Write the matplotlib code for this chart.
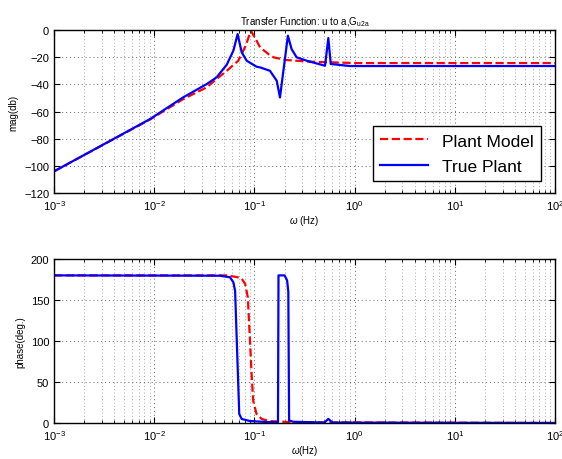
import matplotlib
matplotlib.use("Agg")
import matplotlib.pyplot as plt
import numpy as np
from matplotlib.ticker import LogLocator, NullFormatter

plt.rcParams["font.family"] = ["Liberation Sans", "DejaVu Sans"]
plt.rcParams["mathtext.fontset"] = "custom"
plt.rcParams["mathtext.rm"] = "Liberation Sans"
plt.rcParams["mathtext.it"] = "Liberation Sans:italic"

# magnitude, true plant
f_mag_true = [1e-3, 0.0091, 0.0195, 0.0334, 0.042, 0.053, 0.0617, 0.068, 0.0747, 0.0838,
              0.105, 0.114, 0.143, 0.167, 0.18, 0.216, 0.235, 0.264, 0.333, 0.507,
              0.547, 0.578, 0.9, 100.0]
mag_true = [-104, -65.5, -49.5, -39.8, -34.8, -25.5, -15.2, -3, -16.4, -22.6,
            -27, -27.5, -30, -37.3, -49.6, -4.2, -14, -20.1, -22.6, -26.3,
            -5.9, -25, -26.5, -26.5]

# magnitude, plant model
f_mag_model = [1e-3, 0.0091, 0.0195, 0.0334, 0.042, 0.053, 0.069, 0.082, 0.092, 0.103,
               0.114, 0.138, 0.155, 0.21, 0.359, 1.0, 100.0]
mag_model = [-104, -65.8, -50.8, -42.2, -36, -30, -22.6, -11.5, -0.5, -6.6,
             -12.8, -17.7, -20.1, -22.1, -23.3, -24.3, -24.3]

# phase, true plant
f_ph_true = [1e-3, 0.045, 0.057, 0.0617, 0.0642, 0.0706, 0.0747, 0.09, 0.14, 0.172,
             0.174, 0.2, 0.212, 0.218, 0.222, 0.245, 0.5, 0.547, 0.6, 100.0]
ph_true = [180, 179.6, 177.7, 171.6, 161, 11, 4.9, 2.4, 1, 1,
           180, 180, 174, 160, 3, 1.5, 0.5, 5, 0.5, 0]

# phase, plant model
f_ph_model = [1e-3, 0.053, 0.0667, 0.0747, 0.081, 0.086, 0.09, 0.0937, 0.0973, 0.105,
              0.118, 0.14, 0.25, 100.0]
ph_model = [180, 180, 178, 176, 169.5, 153, 105, 60, 27, 11,
            5, 2.4, 0.8, 0]


def style_axes(ax):
    ax.set_xscale("log")
    ax.set_xlim(1e-3, 1e2)
    ax.xaxis.set_major_locator(LogLocator(base=10, numticks=10))
    ax.xaxis.set_minor_locator(LogLocator(base=10, subs=np.arange(2, 10), numticks=10))
    ax.xaxis.set_minor_formatter(NullFormatter())
    ax.tick_params(which="both", direction="in", top=True, right=True, labelsize=8)
    ax.tick_params(which="major", length=4)
    ax.tick_params(which="minor", length=2)
    ax.grid(True, which="major", linestyle=(0, (1, 3)), color="0.4", linewidth=0.7)
    ax.grid(True, which="minor", axis="x", linestyle=(0, (1, 3)), color="0.55", linewidth=0.6)
    for s in ax.spines.values():
        s.set_linewidth(1.0)


fig = plt.figure(figsize=(5.62, 4.6), dpi=100)
ax1 = fig.add_axes([0.0961, 0.578, 0.8914, 0.3546])
ax2 = fig.add_axes([0.0961, 0.0783, 0.8914, 0.3565])

ax1.plot(f_mag_model, mag_model, "r--", lw=1.6, label="Plant Model")
ax1.plot(f_mag_true, mag_true, "b-", lw=1.6, label="True Plant")
style_axes(ax1)
ax1.set_ylim(-120, 0)
ax1.set_yticks(np.arange(-120, 1, 20))
ax1.set_ylabel("mag(db)", fontsize=7)
ax1.set_xlabel(r"$\omega$ (Hz)", fontsize=7, labelpad=1)
ax1.set_title(r"Transfer Function: u to a,G$_{\mathrm{u2a}}$", fontsize=7, pad=4)
leg = ax1.legend(loc="lower right", bbox_to_anchor=(0.972, 0.074), fontsize=12.5,
                 handlelength=2.8, fancybox=False, edgecolor="black", framealpha=1,
                 borderpad=0.4, labelspacing=0.6, borderaxespad=0)
leg.get_frame().set_linewidth(1.0)

ax2.plot(f_ph_model, ph_model, "r--", lw=1.6)
ax2.plot(f_ph_true, ph_true, "b-", lw=1.6)
style_axes(ax2)
ax2.set_ylim(0, 200)
ax2.set_yticks(np.arange(0, 201, 50))
ax2.set_ylabel("phase(deg.)", fontsize=7)
ax2.set_xlabel(r"$\omega$(Hz)", fontsize=7, labelpad=1)

fig.savefig("out.png", dpi=100)
